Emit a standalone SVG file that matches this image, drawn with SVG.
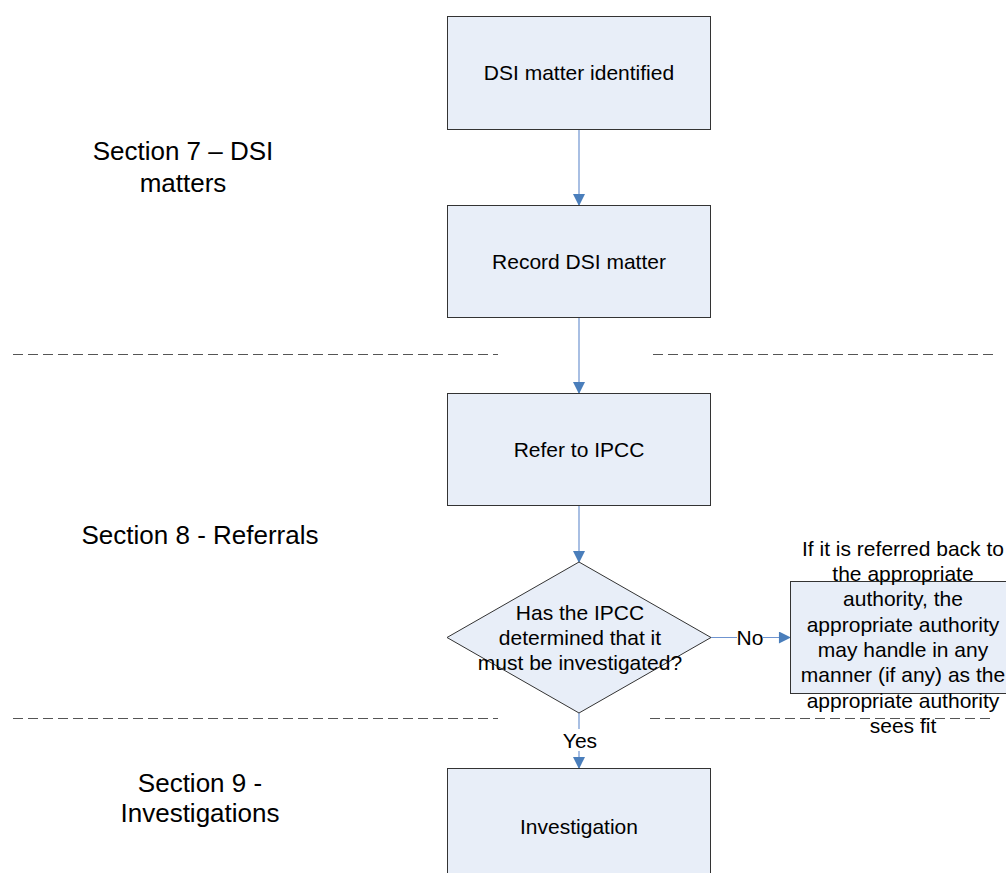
<svg xmlns="http://www.w3.org/2000/svg" width="1006" height="873" viewBox="0 0 1006 873">
<style>
.box{fill:#e8eef8;stroke:#333;stroke-width:1}
.t{font-family:"Liberation Sans",Arial,sans-serif;font-size:21px;fill:#000;text-anchor:middle}
.s{font-family:"Liberation Sans",Arial,sans-serif;font-size:26px;fill:#000;text-anchor:middle}
.conn{stroke:#6f94d0;stroke-width:1.2;fill:none}
.sep{stroke:#555;stroke-width:1;stroke-dasharray:10 5;fill:none}
</style>
<defs>
<marker id="ah" markerWidth="13" markerHeight="12" refX="12" refY="6.5" orient="auto" markerUnits="userSpaceOnUse" viewBox="0 0 13 13">
<path d="M0,0 L13,6.5 L0,13 Z" fill="#4a7ebb"/>
</marker>
</defs>
<rect width="1006" height="873" fill="#fff"/>
<g id="separators">
<line class="sep" x1="13" y1="354.5" x2="498" y2="354.5"/>
<line class="sep" x1="653" y1="354.5" x2="993" y2="354.5"/>
<line class="sep" x1="13" y1="718.5" x2="498" y2="718.5"/>
<line class="sep" x1="650" y1="718.5" x2="990" y2="718.5"/>
</g>
<g id="section-labels">
<text class="s" x="183" y="160">Section 7 – DSI</text>
<text class="s" x="183" y="192">matters</text>
<text class="s" x="200" y="544">Section 8 - Referrals</text>
<text class="s" x="200" y="792">Section 9 -</text>
<text class="s" x="200" y="822">Investigations</text>
</g>
<g id="connectors">
<line class="conn" x1="579" y1="129" x2="579" y2="205" marker-end="url(#ah)"/>
<line class="conn" x1="579" y1="318" x2="579" y2="393" marker-end="url(#ah)"/>
<line class="conn" x1="579" y1="506" x2="579" y2="562" marker-end="url(#ah)"/>
<line class="conn" x1="711" y1="637.5" x2="790" y2="637.5" marker-end="url(#ah)"/>
<line class="conn" x1="579" y1="713" x2="579" y2="768" marker-end="url(#ah)"/>
<rect x="737" y="626" width="26" height="22" fill="#fff"/>
<text class="t" x="750" y="645">No</text>
<rect x="562" y="729" width="35" height="22" fill="#fff"/>
<text class="t" x="580" y="748">Yes</text>
</g>
<g id="node-dsi-identified">
<rect class="box" x="447.5" y="16.5" width="263" height="113"/>
<text class="t" x="579" y="80">DSI matter identified</text>
</g>
<g id="node-record">
<rect class="box" x="447.5" y="205.5" width="263" height="112"/>
<text class="t" x="579" y="269">Record DSI matter</text>
</g>
<g id="node-refer">
<rect class="box" x="447.5" y="393.5" width="263" height="112"/>
<text class="t" x="579" y="457">Refer to IPCC</text>
</g>
<g id="node-decision">
<polygon class="box" points="579,562 711,637.5 579,713 447,637.5"/>
<text class="t" x="580" y="619.5">Has the IPCC</text>
<text class="t" x="580" y="644.5">determined that it</text>
<text class="t" x="580" y="669.5">must be investigated?</text>
</g>
<g id="node-referred-back">
<rect class="box" x="790.5" y="581.5" width="226" height="112"/>
<text class="t" x="903" y="555.5">If it is referred back to</text>
<text class="t" x="903" y="580.9">the appropriate</text>
<text class="t" x="903" y="606.2">authority, the</text>
<text class="t" x="903" y="631.6">appropriate authority</text>
<text class="t" x="903" y="656.9">may handle in any</text>
<text class="t" x="903" y="682.3">manner (if any) as the</text>
<text class="t" x="903" y="707.6">appropriate authority</text>
<text class="t" x="903" y="733">sees fit</text>
</g>
<g id="node-investigation">
<rect class="box" x="447.5" y="768.5" width="263" height="113"/>
<text class="t" x="579" y="834">Investigation</text>
</g>
</svg>
